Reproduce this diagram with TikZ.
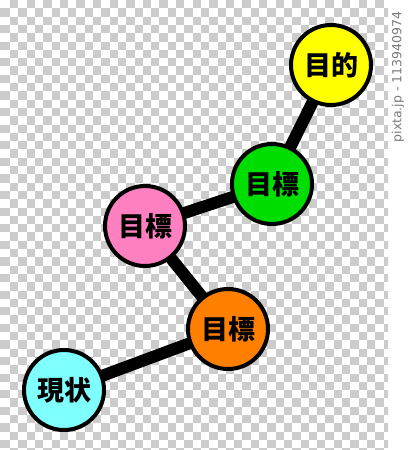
\documentclass[tikz,border=0pt]{standalone}
\usepackage{fontspec}
\newfontfamily\jp{Noto Sans CJK JP}
\newfontfamily\wm{DejaVu Sans}
\definecolor{yellowc}{HTML}{FFFF00}
\definecolor{greenc}{HTML}{00DD00}
\definecolor{pinkc}{HTML}{FF80C0}
\definecolor{orangec}{HTML}{FF8000}
\definecolor{cyanc}{HTML}{80FFFF}
\definecolor{checkc}{HTML}{CCCCCC}
\definecolor{wmc}{HTML}{7A7A7A}
\pgfdeclarelayer{board}
\pgfdeclarelayer{links}
\pgfsetlayers{board,links,main}
\tikzset{
  goal/.style={circle, draw=black, line width=4pt, minimum size=80pt, inner sep=0pt,
    font={\jp\bfseries\fontsize{27pt}{27pt}\selectfont}},
  link/.style={line width=12pt, draw=black},
}
\begin{document}
\begin{tikzpicture}[x=1pt,y=-1pt]
\useasboundingbox (0,0) rectangle (408,450);
\begin{pgfonlayer}{board}
  \fill[white] (0,0) rectangle (408,450);
  \begin{scope}
    \clip (0,0) rectangle (388,450);
    \foreach \j in {0,...,54} {
      \pgfmathtruncatemacro\st{mod(\j,2)==0 ? 1 : 0}
      \foreach \k in {\st,...,47} {
        \pgfmathtruncatemacro\pty{mod(\k+\j,2)}
        \ifnum\pty=1
          \pgfmathsetmacro\xa{\k==0 ? 0 : 10+8.3*(\k-1)}
          \pgfmathsetmacro\xb{10+8.3*\k}
          \fill[checkc] (\xa,{8.3*\j}) rectangle (\xb,{8.3*(\j+1)});
        \fi
      }
    }
  \end{scope}
\end{pgfonlayer}
\node[goal, fill=yellowc] (purpose) at (331,65) {目的};
\node[goal, fill=greenc] (g3) at (272,184) {目標};
\node[goal, fill=pinkc] (g2) at (145,226) {目標};
\node[goal, fill=orangec] (g1) at (228,329) {目標};
\node[goal, fill=cyanc] (now) at (64,390) {現状};
\begin{pgfonlayer}{links}
  \draw[link] (now.center) -- (g1.center);
  \draw[link] (g1.center) -- (g2.center);
  \draw[link] (g2.center) -- (g3.center);
  \draw[link] (g3.center) -- (purpose.center);
\end{pgfonlayer}
\node[rotate=90, text=wmc, inner sep=0pt, font={\wm\fontsize{12.5pt}{12.5pt}\selectfont}] (mark) at (398,77) {pixta.jp - 113940974};
\end{tikzpicture}
\end{document}
